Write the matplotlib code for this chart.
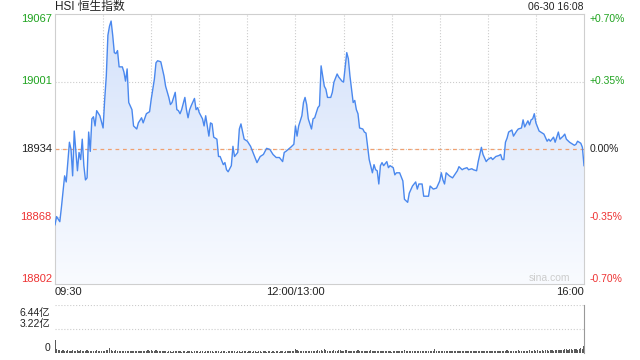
import numpy as np
import matplotlib
matplotlib.use('Agg')
import matplotlib.pyplot as plt
from matplotlib.colors import LinearSegmentedColormap

# 分时数据: 开盘后第几分钟 (09:30 = 0, 13:00 = 150, 16:00 = 330) 和指数点位
minutes = [0, 1, 3, 4, 6, 7, 9, 10, 11, 12,
           14, 15, 16, 17, 18, 19, 20, 21, 22, 23,
           24, 25, 26, 28, 30, 31, 32, 33, 34, 35,
           36, 37, 38, 39, 40, 42, 43, 44, 45, 46,
           48, 49, 51, 52, 54, 55, 57, 59, 60, 61,
           62, 63, 64, 66, 68, 69, 71, 72, 73, 75,
           76, 77, 78, 79, 81, 82, 83, 84, 85, 87,
           88, 89, 90, 92, 93, 94, 96, 97, 98, 99,
           101, 102, 103, 105, 106, 107, 108, 110, 111, 112,
           114, 115, 116, 118, 120, 122, 124, 126, 128, 130,
           132, 134, 136, 138, 140, 142, 143, 144, 147, 149,
           150, 151, 152, 154, 155, 156, 157, 158, 160, 161,
           162, 164, 165, 166, 168, 169, 170, 172, 173, 174,
           176, 177, 179, 180, 182, 183, 184, 185, 186, 187,
           188, 189, 190, 192, 193, 194, 195, 196, 198, 199,
           200, 201, 202, 203, 204, 205, 207, 208, 209, 211,
           212, 213, 215, 217, 218, 220, 221, 223, 225, 226,
           227, 229, 230, 233, 234, 236, 238, 240, 241, 242,
           243, 244, 246, 248, 251, 252, 254, 255, 257, 258,
           260, 261, 263, 264, 265, 266, 267, 269, 270, 272,
           273, 275, 277, 278, 279, 280, 281, 282, 283, 285,
           286, 288, 289, 291, 292, 293, 295, 296, 297, 298,
           299, 300, 302, 304, 305, 307, 308, 309, 311, 312,
           314, 315, 317, 318, 319, 321, 322, 324, 325, 326,
           328, 329, 330]
prices = [18860, 18868, 18863, 18877, 18908, 18902, 18941, 18934, 18908, 18952,
          18913, 18931, 18924, 18944, 18918, 18904, 18906, 18951, 18932, 18964,
          18966, 18957, 18972, 18967, 18955, 18983, 19006, 19046, 19055, 19060,
          19046, 19029, 19028, 19031, 19015, 19015, 19010, 19001, 19013, 18980,
          18973, 18957, 18954, 18960, 18965, 18960, 18969, 18971, 18983, 18993,
          19003, 19019, 19021, 19020, 19006, 18996, 18985, 18978, 18980, 18990,
          18973, 18972, 18969, 18973, 18985, 18973, 18965, 18973, 18977, 18984,
          18973, 18975, 18970, 18964, 18957, 18967, 18947, 18960, 18959, 18946,
          18944, 18927, 18927, 18919, 18921, 18914, 18912, 18918, 18937, 18927,
          18931, 18954, 18959, 18944, 18942, 18937, 18929, 18921, 18927, 18929,
          18935, 18934, 18929, 18926, 18926, 18922, 18931, 18932, 18936, 18939,
          18957, 18947, 18957, 18967, 18980, 18985, 18978, 18964, 18954, 18964,
          18965, 18975, 18977, 19016, 18996, 18993, 18985, 18985, 18990, 19000,
          19008, 19005, 19001, 19000, 19029, 19023, 19006, 18993, 18980, 18982,
          18973, 18969, 18955, 18954, 18951, 18950, 18937, 18924, 18911, 18919,
          18914, 18913, 18900, 18918, 18921, 18918, 18922, 18916, 18918, 18916,
          18909, 18911, 18911, 18903, 18885, 18882, 18891, 18898, 18902, 18895,
          18900, 18900, 18888, 18888, 18898, 18895, 18896, 18903, 18911, 18904,
          18900, 18911, 18908, 18906, 18913, 18917, 18914, 18915, 18916, 18914,
          18915, 18914, 18913, 18922, 18929, 18936, 18929, 18922, 18924, 18926,
          18924, 18927, 18928, 18929, 18924, 18924, 18941, 18945, 18951, 18953,
          18947, 18952, 18954, 18955, 18963, 18956, 18962, 18958, 18963, 18964,
          18969, 18960, 18952, 18950, 18949, 18942, 18944, 18942, 18946, 18941,
          18951, 18944, 18947, 18949, 18944, 18941, 18940, 18938, 18939, 18942,
          18940, 18936, 18918]

prev_close = 18934.36
pct_levels = [-0.70, -0.35, 0.0, 0.35, 0.70]
price_labels = ['18802', '18868', '18934', '19001', '19067']
pct_labels = ['-0.70%', '-0.35%', '0.00%', '+0.35%', '+0.70%']
time_pos = [0, 150, 330]
time_labels = ['09:30', '12:00/13:00', '16:00']

# 成交量 (亿), 每分钟一根
volume = [1.70, 0.55, 0.42, 0.38, 0.30, 0.35, 0.28, 0.33, 0.40, 0.31, 0.27, 0.36, 0.30, 0.25, 0.34,
          0.29, 0.38, 0.26, 0.31, 0.27, 0.35, 0.24, 0.30, 0.33, 0.27, 0.25, 0.36, 0.29, 0.31, 0.26,
          0.33, 0.28, 0.37, 0.42, 0.65, 0.38, 0.31, 0.27, 0.34, 0.29, 0.32, 0.26, 0.30, 0.24, 0.28,
          0.33, 0.22, 0.27, 0.25, 0.30, 0.21, 0.26, 0.29, 0.23, 0.27, 0.31, 0.25, 0.28, 0.35, 0.30,
          0.38, 0.33, 0.29, 0.36, 0.31, 0.27, 0.24, 0.30, 0.22, 0.26, 0.20, 0.25, 0.23, 0.19, 0.27,
          0.24, 0.21, 0.26, 0.22, 0.18, 0.25, 0.28, 0.20, 0.23, 0.26, 0.21, 0.19, 0.24, 0.27, 0.22,
          0.20, 0.25, 0.23, 0.18, 0.26, 0.21, 0.24, 0.28, 0.22, 0.19, 0.25, 0.23, 0.27, 0.20, 0.24,
          0.22, 0.26, 0.19, 0.23, 0.25, 0.30, 0.21, 0.24, 0.20, 0.26, 0.22, 0.18, 0.23, 0.25, 0.21,
          0.19, 0.24, 0.22, 0.20, 0.25, 0.21, 0.18, 0.23, 0.26, 0.20, 0.22, 0.24, 0.19, 0.21, 0.25,
          0.20, 0.23, 0.18, 0.22, 0.24, 0.19, 0.21, 0.26, 0.20, 0.23, 0.25, 0.22, 0.28, 0.24, 0.33,
          0.58, 0.36, 0.30, 0.27, 0.33, 0.29, 0.25, 0.31, 0.26, 0.23, 0.28, 0.32, 0.24, 0.27, 0.35,
          0.30, 0.41, 0.33, 0.60, 0.38, 0.29, 0.26, 0.31, 0.27, 0.34, 0.28, 0.30, 0.45, 0.36, 0.32,
          0.28, 0.40, 0.35, 0.30, 0.27, 0.33, 0.29, 0.25, 0.31, 0.37, 0.28, 0.26, 0.30, 0.24, 0.27,
          0.32, 0.29, 0.35, 0.26, 0.23, 0.28, 0.25, 0.30, 0.22, 0.26, 0.24, 0.21, 0.27, 0.23, 0.25,
          0.20, 0.24, 0.28, 0.22, 0.26, 0.23, 0.30, 0.25, 0.34, 0.27, 0.24, 0.29, 0.22, 0.26, 0.31,
          0.25, 0.23, 0.28, 0.21, 0.26, 0.24, 0.29, 0.22, 0.27, 0.25, 0.23, 0.30, 0.50, 0.33, 0.28,
          0.31, 0.26, 0.29, 0.24, 0.27, 0.22, 0.30, 0.25, 0.28, 0.23, 0.26, 0.32, 0.24, 0.27, 0.21,
          0.25, 0.29, 0.23, 0.26, 0.22, 0.28, 0.24, 0.21, 0.27, 0.25, 0.33, 0.29, 0.26, 0.24, 0.28,
          0.22, 0.26, 0.25, 0.29, 0.23, 0.27, 0.30, 0.24, 0.26, 0.28, 0.31, 0.27, 0.34, 0.29, 0.25,
          0.30, 0.27, 0.32, 0.28, 0.35, 0.30, 0.26, 0.33, 0.29, 0.31, 0.27, 0.36, 0.32, 0.28, 0.34,
          0.30, 0.37, 0.33, 0.29, 0.35, 0.31, 0.38, 0.34, 0.30, 0.40, 0.36, 0.33, 0.42, 0.37, 0.34,
          0.45, 0.39, 0.36, 0.48, 0.52, 0.41, 0.55, 0.47, 0.44, 0.58, 0.50, 0.46, 0.53, 0.61, 0.49,
          0.95]
vol_max = 6.44
vol_labels = ['0', '3.22亿', '6.44亿']
vol_label_y = [0.10, 0.60, 0.84]

GREEN = '#1fa31f'
RED = '#ee3333'
GRID = '#cccccc'
FONT = ['Liberation Sans', 'Noto Sans CJK SC', 'DejaVu Sans']
plt.rcParams['font.family'] = FONT

fig = plt.figure(figsize=(6.4, 3.6), dpi=100)
W, H = 640, 360

# 分时主图
ax = fig.add_axes([55 / W, 1 - 284 / H, 529 / W, 270 / H])
ylo = prev_close * (1 - 0.007)
yhi = prev_close * (1 + 0.007)
levels = [prev_close * (1 + p / 100) for p in pct_levels]

cmap = LinearSegmentedColormap.from_list('fill', ['#f9fbff', '#d3e1fa'])
grad = np.linspace(0, 1, 256).reshape(-1, 1)
im = ax.imshow(grad, extent=[0, 330, ylo, yhi], origin='lower', aspect='auto',
               cmap=cmap, zorder=1)
poly = ax.fill_between(minutes, prices, ylo, facecolor='none', edgecolor='none')
im.set_clip_path(poly.get_paths()[0], transform=ax.transData)

for t in range(30, 330, 30):
    ax.axvline(t, color=GRID, lw=0.8, ls=':', zorder=0.5)
for lv in levels[1:-1]:
    ax.axhline(lv, color=GRID, lw=0.8, ls=':', zorder=0.5)
ax.axhline(prev_close, color='#f0a070', lw=0.9, dashes=(3, 3), zorder=2)

ax.plot(minutes, prices, color='#4a88ee', lw=1.0, zorder=3)

ax.set_xlim(0, 330)
ax.set_ylim(ylo, yhi)
ax.set_xticks([])
ax.set_yticks([])
for sp in ax.spines.values():
    sp.set_color('#cfcfcf')
    sp.set_linewidth(0.8)

ytr = ax.get_yaxis_transform()
for i, (lv, p) in enumerate(zip(levels, pct_levels)):
    c = GREEN if p > 0 else (RED if p < 0 else '#222222')
    va = 'bottom' if i == 0 else ('top' if i == len(levels) - 1 else 'center')
    ax.text(-0.006, lv, price_labels[i], transform=ytr, ha='right', va=va,
            fontsize=8, color=c)
    ax.text(1.011, lv, pct_labels[i], transform=ytr, ha='left', va=va,
            fontsize=7.5, color=c)

xtr = ax.get_xaxis_transform()
for t, lab, ha in zip(time_pos, time_labels, ['left', 'center', 'right']):
    ax.text(t, -0.03, lab, transform=xtr, ha=ha, va='center', fontsize=8,
            color='#222222')

ax.text(0.935, 0.022, 'sina.com', transform=ax.transAxes, ha='center',
        va='center', fontsize=7.5, color='#cccccc')

fig.text(55 / W, 1 - 7 / H, 'HSI 恒生指数', ha='left', va='center',
         fontsize=8.5, color='#222222')
fig.text(584 / W, 1 - 7 / H, '06-30 16:08', ha='right', va='center',
         fontsize=7.5, color='#222222')

# 成交量
axv = fig.add_axes([55 / W, 1 - 353 / H, 529 / W, 48 / H])
axv.bar(np.arange(len(volume)), volume, width=0.7, color='#5a5a5a', zorder=2)
axv.set_xlim(0, 330)
axv.set_ylim(0, vol_max)
axv.axhline(vol_max, color=GRID, lw=0.8, ls=':', zorder=0.5)
axv.axhline(vol_max / 2, color=GRID, lw=0.8, ls=':', zorder=0.5)
axv.set_xticks([])
axv.set_yticks([])
for name in ['left', 'top', 'bottom']:
    axv.spines[name].set_visible(False)
axv.spines['right'].set_color('#999999')
axv.spines['right'].set_linewidth(0.8)
for lab, yy in zip(vol_labels, vol_label_y):
    axv.text(-0.0095, yy, lab, transform=axv.transAxes, ha='right',
             va='center', fontsize=7.5, color='#222222')

fig.savefig('out.png', dpi=100)
